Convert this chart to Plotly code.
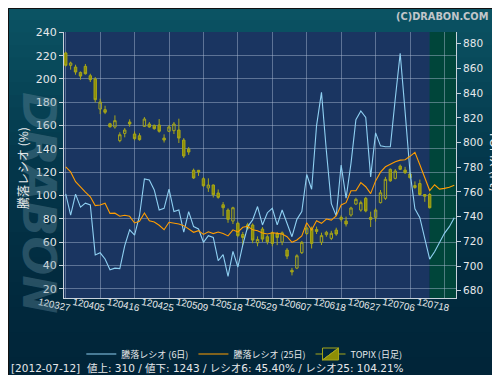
import plotly.graph_objects as go

# ---------------- data ----------------
# trading-day index: 0..74 actual (2012-03-27 .. 2012-07-12), 75..79 forecast zone
n_days = 80
days = list(range(n_days))
candle_days = list(range(75))

topix_open = [872.5, 862.5, 861.1, 856.8, 861.7, 854.1, 851.4, 827.1, 826.6, 815.2,
              812.6, 801.5, 807.4, 816.6, 806.9, 805.5, 813.1, 815.0, 813.9, 814.2,
              803.6, 809.1, 809.6, 810.1, 802.0, 794.7, 777.5, 777.5, 770.7, 763.2,
              765.6, 759.1, 749.6, 745.3, 736.4, 734.6, 725.5, 733.4, 733.2, 718.8,
              729.9, 723.7, 726.9, 725.9, 719.4, 712.9, 696.5, 698.3, 710.8, 726.3,
              730.1, 729.6, 719.2, 725.4, 722.4, 729.1, 739.4, 736.4, 741.3, 750.2,
              745.3, 754.8, 739.4, 739.4, 751.3, 754.8, 778.3, 771.0, 780.9, 777.7,
              774.5, 765.2, 766.8, 757.9, 757.9]
topix_close = [862.5, 864.4, 857.1, 853.8, 855.7, 850.9, 834.7, 832.8, 824.5, 812.8,
               817.7, 806.3, 810.1, 815.0, 803.1, 802.3, 819.0, 812.6, 811.2, 809.1,
               802.0, 812.6, 815.0, 803.6, 789.1, 792.3, 771.3, 776.1, 765.0, 765.6,
               757.7, 755.6, 747.2, 737.8, 747.2, 724.6, 723.1, 730.5, 721.0, 721.5,
               721.8, 719.6, 718.3, 723.1, 726.9, 708.0, 695.2, 708.3, 719.2, 730.8,
               718.3, 728.0, 724.6, 727.3, 726.5, 725.9, 737.8, 734.0, 747.0, 754.0,
               751.3, 744.6, 737.8, 745.3, 759.3, 770.2, 769.0, 776.9, 778.3, 775.6,
               771.5, 763.6, 757.9, 756.5, 747.2]
topix_high = [873.5, 865.5, 863.0, 857.5, 863.6, 855.7, 853.0, 835.5, 829.8, 816.0,
              822.0, 808.3, 811.7, 818.8, 809.0, 807.5, 820.6, 816.6, 814.5, 819.0,
              806.6, 813.9, 816.6, 819.3, 803.6, 796.3, 778.9, 777.8, 772.0, 771.0,
              766.0, 762.0, 751.8, 746.7, 748.0, 736.0, 727.6, 735.0, 734.5, 724.0,
              731.5, 725.0, 728.0, 727.6, 728.0, 714.5, 698.5, 709.5, 720.3, 731.9,
              731.9, 731.9, 727.0, 728.5, 728.5, 731.0, 741.0, 740.0, 748.0, 755.3,
              753.0, 756.0, 744.0, 746.7, 761.5, 772.2, 779.0, 778.5, 782.2, 780.3,
              776.3, 768.5, 770.0, 757.9, 759.3]
topix_low = [861.5, 859.0, 854.9, 850.9, 855.0, 849.0, 832.5, 823.0, 823.0, 812.0,
             811.2, 800.2, 804.2, 812.8, 801.8, 801.5, 812.6, 812.0, 810.4, 808.0,
             800.0, 808.4, 806.9, 799.6, 787.5, 790.0, 770.5, 773.0, 764.0, 760.0,
             755.5, 754.5, 740.5, 735.0, 734.0, 723.3, 716.9, 729.0, 718.5, 716.0,
             719.5, 717.5, 716.0, 716.9, 716.9, 705.6, 692.4, 697.5, 709.7, 725.0,
             714.2, 725.9, 717.0, 723.7, 721.0, 724.5, 736.0, 732.0, 740.0, 749.5,
             744.0, 743.5, 731.6, 736.0, 750.7, 753.5, 768.2, 770.2, 777.7, 774.5,
             770.9, 762.5, 757.0, 752.0, 746.6]

ratio6 = [101.3, 83.1, 101.2, 90.0, 93.4, 91.9, 49.0, 50.8, 45.5, 36.2,
          37.6, 37.2, 57.0, 70.5, 66.0, 82.6, 114.2, 113.3, 104.7, 87.6,
          89.0, 105.5, 86.2, 87.6, 68.5, 86.2, 73.3, 71.2, 59.8, 65.5,
          64.0, 44.0, 49.3, 30.5, 52.0, 38.6, 57.6, 73.3, 79.0, 90.5,
          74.7, 85.2, 89.0, 74.7, 87.5, 76.1, 64.6, 79.5, 86.1, 118.0,
          105.3, 160.0, 188.5, 138.0, 93.0, 82.5, 126.1, 97.6, 127.6, 165.0,
          172.5, 167.0, 116.0, 153.7, 142.6, 141.8, 141.8, 183.0, 222.0, 172.0,
          120.0, 88.5, 81.0, 63.0, 45.4, 51.7, 60.3, 67.5, 73.2, 80.9]
ratio25 = [124.5, 120.2, 111.8, 107.0, 102.8, 98.9, 91.3, 91.8, 93.4, 84.6,
           84.8, 82.2, 83.0, 82.1, 76.4, 77.8, 85.0, 78.3, 77.2, 74.4,
           70.6, 77.0, 76.4, 75.5, 74.1, 71.5, 68.4, 69.8, 66.6, 68.8,
           67.3, 68.6, 67.3, 65.3, 70.5, 68.6, 72.7, 73.6, 70.5, 69.8,
           67.8, 66.9, 68.0, 67.5, 66.9, 64.6, 59.8, 61.8, 65.2, 76.6,
           70.4, 78.3, 76.1, 79.8, 78.9, 82.5, 91.8, 93.8, 104.1, 104.1,
           111.0, 107.5, 101.6, 112.5, 120.0, 124.6, 127.1, 129.0, 130.3, 130.7,
           133.6, 137.0, 126.4, 115.8, 104.2, 109.2, 105.5, 106.1, 107.0, 108.7]

tick_days = [0, 7, 14, 21, 28, 35, 42, 49, 56, 63, 70, 77]
tick_labels = ["120327", "120405", "120416", "120425", "120509", "120518",
               "120529", "120607", "120618", "120627", "120706", "120718"]
ratio_ticks = [20, 40, 60, 80, 100, 120, 140, 160, 180, 200, 220, 240]
topix_ticks = [680, 700, 720, 740, 760, 780, 800, 820, 840, 860, 880]

last_date = "2012-07-12"
advances = 310
declines = 1243
last_ratio6 = 45.40
last_ratio25 = 104.21
forecast_start = 74

# ---------------- figure ----------------
FONT = "DejaVu Sans, Noto Sans CJK JP, sans-serif"
JFONT = "Noto Sans CJK JP, DejaVu Sans, sans-serif"
TXT = "#e6e8ea"
AXC = "#c9d2dc"
GRID = "rgba(175,190,215,0.45)"

fig = go.Figure()

fig.add_trace(go.Candlestick(
    x=candle_days, open=topix_open, high=topix_high, low=topix_low, close=topix_close,
    name="TOPIX (日足)", yaxis="y", legendrank=3,
    increasing=dict(line=dict(color="#a6a61a", width=1), fillcolor="rgba(0,0,0,0)"),
    decreasing=dict(line=dict(color="#a6a61a", width=1), fillcolor="#8e8e06"),
    whiskerwidth=0, showlegend=True,
))
fig.add_trace(go.Scatter(
    x=days, y=ratio6, mode="lines", name="騰落レシオ (6日)", yaxis="y2", legendrank=1,
    line=dict(color="#8fd0f2", width=1.1),
))
fig.add_trace(go.Scatter(
    x=days, y=ratio25, mode="lines", name="騰落レシオ (25日)", yaxis="y2", legendrank=2,
    line=dict(color="#ff9d00", width=1.1),
))

W, H = 500, 375
ML, MR, MT, MB = 56, 52, 24, 85
PW, PH = W - ML - MR, H - MT - MB


def px_x(p):
    return (p - ML) / PW


def px_y(p):
    return (H - MB - p) / PH


shapes = []
# background gradient bands (whole canvas)
stops = [(0, (11, 84, 100)), (150, (4, 56, 76)), (300, (1, 40, 60)), (375, (1, 36, 56))]
nb = 30
for k in range(nb):
    y0p = H * k / nb
    y1p = H * (k + 1) / nb
    ym = (y0p + y1p) / 2
    for (a, ca), (b, cb) in zip(stops[:-1], stops[1:]):
        if a <= ym <= b:
            t = (ym - a) / (b - a)
            c = tuple(int(round(ca[i] + (cb[i] - ca[i]) * t)) for i in range(3))
            break
    shapes.append(dict(type="rect", xref="paper", yref="paper",
                       x0=px_x(0), x1=px_x(W), y0=px_y(y1p), y1=px_y(y0p) + 0.002,
                       fillcolor="rgb(%d,%d,%d)" % c, line=dict(width=0), layer="below"))
x_lo, x_hi = -0.35, 79.35
shapes.append(dict(type="rect", xref="x", yref="paper", x0=x_lo, x1=forecast_start, y0=0, y1=1,
                   fillcolor="#1a3561", line=dict(width=0), layer="below"))
shapes.append(dict(type="rect", xref="x", yref="paper", x0=forecast_start, x1=x_hi, y0=0, y1=1,
                   fillcolor="#00453a", line=dict(width=0), layer="below"))
# thin dark frame
shapes.append(dict(type="rect", xref="paper", yref="paper",
                   x0=px_x(0.5), x1=px_x(W - 0.5), y0=px_y(H - 0.5), y1=px_y(0.5),
                   line=dict(color="#111111", width=1), fillcolor="rgba(0,0,0,0)", layer="above"))

annotations = [
    dict(text="DRABON", xref="paper", yref="paper", x=px_x(31), y=px_y(195),
         xanchor="center", yanchor="middle", textangle=90, showarrow=False,
         font=dict(family="DejaVu Sans", size=46, color="rgba(110,150,168,0.34)",
                   weight="bold", style="italic")),
    dict(text="騰落レシオ (%)", xref="paper", yref="paper", x=px_x(14), y=px_y(160),
         xanchor="center", yanchor="middle", textangle=-90, showarrow=False,
         font=dict(family=JFONT, size=12, color=TXT)),
    dict(text="TOPIX (Pt)", xref="paper", yref="paper", x=px_x(486), y=px_y(153),
         xanchor="center", yanchor="middle", textangle=90, showarrow=False,
         font=dict(family=FONT, size=12, color=TXT)),
    dict(text="(C)DRABON.COM", xref="paper", yref="paper", x=px_x(386), y=px_y(8.5),
         xanchor="left", yanchor="middle", showarrow=False,
         font=dict(family="DejaVu Sans", size=9.8, color="#c2c6ca", weight="bold")),
    dict(text="[%s]  値上: %d / 値下: %d / レシオ6: %.2f%% / レシオ25: %.2f%%"
              % (last_date, advances, declines, last_ratio6, last_ratio25),
         xref="paper", yref="paper", x=px_x(1), y=px_y(360),
         xanchor="left", yanchor="middle", showarrow=False,
         font=dict(family=FONT, size=10.5, color=TXT)),
]

fig.update_layout(
    width=W, height=H,
    margin=dict(l=ML, r=MR, t=MT, b=MB, pad=0),
    paper_bgcolor="#03304a",
    plot_bgcolor="rgba(0,0,0,0)",
    font=dict(family=FONT, color=TXT),
    showlegend=True,
    legend=dict(orientation="h", x=0.46, xanchor="center", y=px_y(346), yanchor="middle",
                font=dict(family=JFONT, size=9, color=TXT), bgcolor="rgba(0,0,0,0)"),
    xaxis=dict(range=[x_lo, x_hi], tickmode="array", tickvals=tick_days, ticktext=tick_labels,
               tickangle=12, ticklabelshift=-27, ticklabelstandoff=-6, ticks="",
               showgrid=True, gridcolor=GRID, gridwidth=1, zeroline=False,
               showline=True, linecolor=AXC, linewidth=1,
               tickfont=dict(family="Liberation Sans", size=9.8, color=TXT),
               rangeslider=dict(visible=False), fixedrange=True),
    yaxis=dict(range=[674.1, 889.5], side="right", tickmode="array", tickvals=topix_ticks,
               ticks="outside", ticklen=4, tickcolor=AXC, showgrid=False, zeroline=False,
               showline=True, linecolor=AXC, linewidth=1,
               tickfont=dict(family=FONT, size=10.5, color=TXT)),
    yaxis2=dict(range=[12.0, 240.3], side="left", overlaying="y", tickmode="array",
                tickvals=ratio_ticks, ticks="outside", ticklen=4, tickcolor=AXC,
                showgrid=True, gridcolor=GRID, gridwidth=1, zeroline=False,
                showline=True, linecolor=AXC, linewidth=1,
                tickfont=dict(family=FONT, size=11, color=TXT)),
    shapes=shapes,
    annotations=annotations,
)

fig.write_html("out.html")
